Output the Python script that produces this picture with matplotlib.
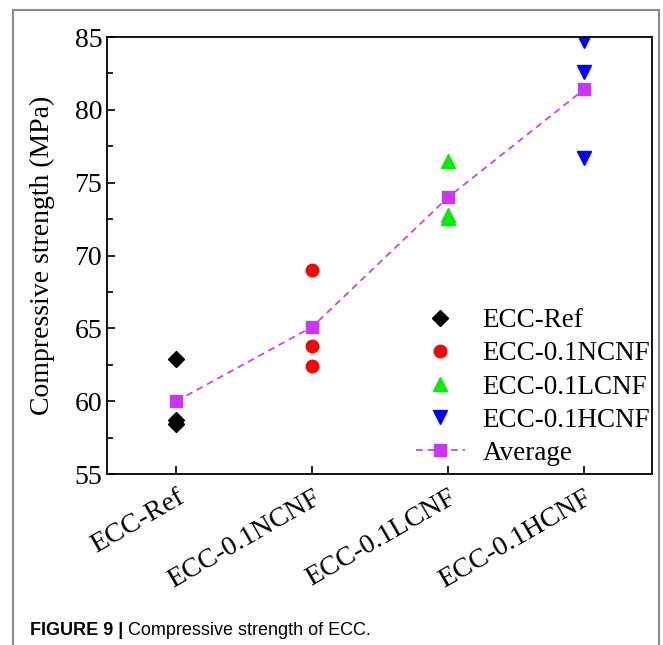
import matplotlib.pyplot as plt
from matplotlib.patches import Rectangle
from matplotlib.ticker import MultipleLocator

plt.rcParams['font.family'] = ['Liberation Serif', 'DejaVu Serif']

groups = ["ECC-Ref", "ECC-0.1NCNF", "ECC-0.1LCNF", "ECC-0.1HCNF"]
ref_vals = [62.9, 58.7, 58.4]
ncnf_vals = [69.0, 63.8, 62.4]
lcnf_vals = [76.5, 72.8, 72.6]
hcnf_vals = [84.7, 82.6, 76.7]
avg_vals = [60.0, 65.1, 74.0, 81.4]

fig = plt.figure(figsize=(6.63, 6.45), dpi=100)
ax = fig.add_axes([0.1614, 0.2651, 0.8220, 0.6775])

x = [1, 2, 3, 4]
ax.plot([x[0]] * len(ref_vals), ref_vals, 'D', color='black', markersize=8, linestyle='none', label='ECC-Ref')
ax.plot([x[1]] * len(ncnf_vals), ncnf_vals, 'o', color='#FF0000', markersize=9, linestyle='none', label='ECC-0.1NCNF')
ax.plot([x[2]] * len(lcnf_vals), lcnf_vals, '^', color='#00EE00', markersize=10, linestyle='none', label='ECC-0.1LCNF')
ax.plot([x[3]] * len(hcnf_vals), hcnf_vals, 'v', color='#0000FF', markersize=10, linestyle='none', label='ECC-0.1HCNF')
ax.plot(x, avg_vals, 's--', color='#CC33FF', markersize=8, linewidth=1.2, dashes=(4, 3), label='Average')

ax.set_xlim(0.49, 4.5)
ax.set_ylim(55, 85)
ax.yaxis.set_major_locator(MultipleLocator(5))
ax.yaxis.set_minor_locator(MultipleLocator(2.5))
ax.set_xticks(x)
ax.set_xticklabels(groups, rotation=30, ha='right', rotation_mode='anchor', fontsize=20)
ax.tick_params(axis='both', which='both', direction='in', top=False, right=False, width=1.2)
ax.tick_params(axis='both', which='major', length=6, labelsize=20)
ax.tick_params(axis='y', which='minor', length=4)
ax.tick_params(axis='x', which='minor', bottom=False)
ax.tick_params(axis='x', pad=8)
for s in ax.spines.values():
    s.set_linewidth(1.3)
ax.set_ylabel("Compressive strength (MPa)", fontsize=20, labelpad=14)

ax.legend(loc='lower right', bbox_to_anchor=(1.016, -0.006), frameon=False, fontsize=19.5,
          handlelength=1.8, handletextpad=0.65, labelspacing=0.3, borderaxespad=0.0)

# grey frame around the figure
fig.patches.append(Rectangle((13 / 663, -0.05), (659 - 13) / 663, 1.05 - 10 / 645, transform=fig.transFigure,
                             fill=False, edgecolor='#8a8a8a', linewidth=1.5))

cap = fig.text(30 / 663, 0.023, "FIGURE 9 |", fontsize=13, fontweight='bold',
               family=['Liberation Sans'], va='center')
ax.annotate(" Compressive strength of ECC.", xy=(1, 0.5), xycoords=cap, va='center', ha='left',
            fontsize=13, family=['Liberation Sans'], annotation_clip=False)

fig.savefig("out.png", dpi=100)
